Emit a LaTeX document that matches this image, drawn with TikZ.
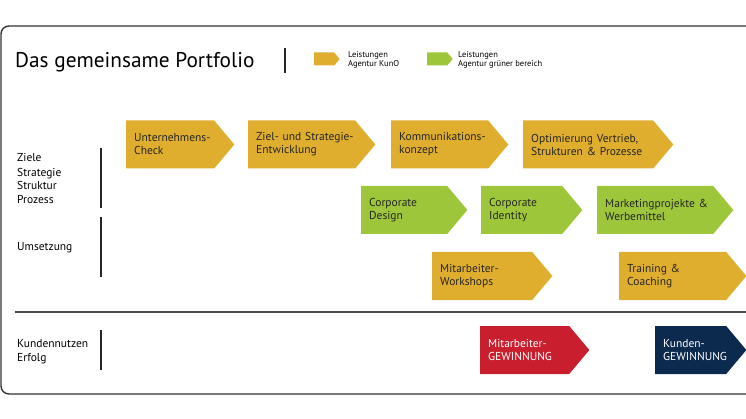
\documentclass[tikz,border=0pt]{standalone}
\usepackage{fontspec}
\setmainfont{PT Sans}
\usetikzlibrary{shapes.symbols}

\definecolor{kunogelb}{RGB}{224,174,46}
\definecolor{gruengelb}{RGB}{157,198,58}
\definecolor{gewinnrot}{RGB}{200,30,45}
\definecolor{gewinnblau}{RGB}{12,42,78}

\newcommand{\ohnetrennung}{\hyphenpenalty10000\exhyphenpenalty10000\relax}

\tikzset{
  pfeil/.style={shape=signal, signal to=east, signal pointer angle=100,
    minimum height=48pt, inner xsep=8pt, inner ysep=0pt, anchor=west,
    align=left, text=black!85,
    font=\fontsize{11.5}{13}\selectfont\ohnetrennung},
  kuno/.style={pfeil, fill=kunogelb},
  gruen/.style={pfeil, fill=gruengelb},
  rotpfeil/.style={pfeil, fill=gewinnrot, text=white},
  blaupfeil/.style={pfeil, fill=gewinnblau, text=white},
  legende/.style={shape=signal, signal to=east, signal pointer angle=100,
    minimum height=13pt, inner sep=0pt, text width=20pt, anchor=west},
  legtext/.style={anchor=west, align=left, inner sep=0pt,
    font=\fontsize{8.5}{9}\selectfont},
  zeile/.style={anchor=west, align=left, inner sep=0pt,
    font=\fontsize{11.5}{14}\selectfont},
  balken/.style={line width=1.2pt, black!85}
}

\begin{document}
\begin{tikzpicture}[x=1pt,y=-1pt]
  \useasboundingbox (0,0) rectangle (746,419);
  \begin{scope}
    \clip (0,0) rectangle (746,419);
    % Rahmen
    \draw[line width=1.4pt, black!80, rounded corners=8pt] (760,26) -- (1,26) -- (1,394) -- (760,394);

    % Kopfzeile
    \node[anchor=base west, inner sep=0pt, font=\fontsize{21.3}{25}\selectfont] (titel) at (15,68) {Das gemeinsame Portfolio};
    \draw[balken] (285,48) -- (285,73);
    \node[legende, fill=kunogelb] (legkuno) at (314,59) {};
    \node[legtext] (txtkuno) at (348,60) {Leistungen\\Agentur KunO};
    \node[legende, fill=gruengelb] (leggruen) at (427,59) {};
    \node[legtext] (txtgruen) at (458,60) {Leistungen\\Agentur grüner bereich};

    % linke Spalte
    \node[zeile] (ziele) at (17,179) {Ziele\\Strategie\\Struktur\\Prozess};
    \draw[balken] (101,148) -- (101,208);
    \node[zeile] (umsetzung) at (17,248) {Umsetzung};
    \draw[balken] (101,217) -- (101,277);
    \node[zeile] (nutzen) at (17,352) {Kundennutzen\\Erfolg};
    \draw[balken] (101,330) -- (101,370);

    \draw[line width=2pt, black!70] (15,312) -- (760,312);

    % Zeile 1
    \node[kuno, text width=72pt] (check) at (126,144.5) {Unternehmens-\\Check};
    \node[kuno, text width=91pt] (ziel) at (248,144.5) {Ziel-~und~Strategie-\\Entwicklung};
    \node[kuno, text width=81pt] (kommunikation) at (391,144.5) {Kommunikations-\\konzept};
    \node[kuno, text width=114pt] (optimierung) at (523,144.5) {Optimierung~Vertrieb,\\Strukturen~\&~Prozesse};

    % Zeile 2
    \node[gruen, text width=70pt] (design) at (361,210) {Corporate\\Design};
    \node[gruen, text width=65pt] (identity) at (481,210) {Corporate\\Identity};
    \node[gruen, text width=100pt] (marketing) at (597,210) {Marketingprojekte~\&\\Werbemittel};

    % Zeile 3
    \node[kuno, text width=84pt] (workshops) at (432,276) {Mitarbeiter-\\Workshops};
    \node[kuno, text width=91pt] (training) at (619,276) {Training~\&\\Coaching};

    % Zeile 4
    \node[rotpfeil, text width=73pt] (mgewinnung) at (480,350) {Mitarbeiter-\\GEWINNUNG};
    \node[blaupfeil, text width=55pt] (kgewinnung) at (655,350) {Kunden-\\GEWINNUNG};
  \end{scope}
\end{tikzpicture}
\end{document}
